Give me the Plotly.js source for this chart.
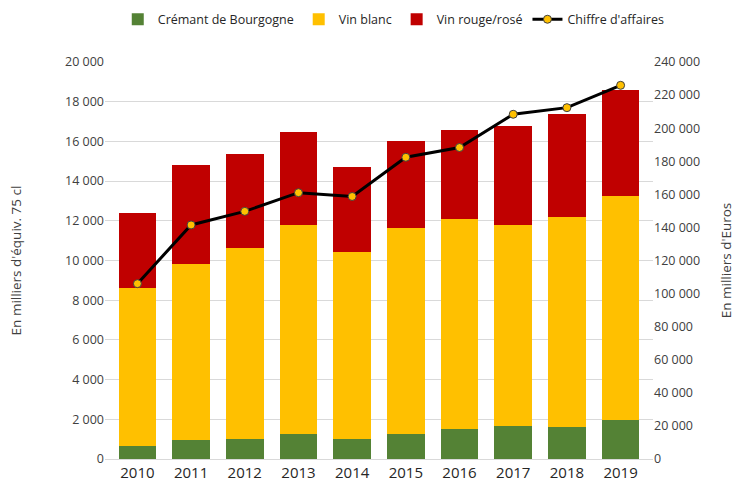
<!DOCTYPE html>
<html>
<head>
<meta charset="utf-8">
<script src="https://cdn.plot.ly/plotly-3.0.1.min.js"></script>
<style>html,body{margin:0;padding:0;background:#fff;}#chart{width:736px;height:491px;}</style>
</head>
<body>
<div id="chart"></div>
<script>
const years = ['2010','2011','2012','2013','2014','2015','2016','2017','2018','2019'];
const cremant = [650, 980, 1030, 1280, 1030, 1280, 1520, 1680, 1620, 1970];
const vinBlanc = [7990, 8850, 9625, 10520, 9390, 10370, 10565, 10120, 10580, 11255];
const vinRouge = [3750, 4960, 4695, 4655, 4290, 4350, 4470, 4960, 5165, 5385];
const chiffreAffaires = [106000, 141500, 149700, 161000, 158700, 182400, 188300, 208400, 212400, 225900];

const fontFam = '"Open Sans", "Noto Sans", sans-serif';

const traces = [
  {type:'bar', name:'Crémant de Bourgogne', x:years, y:cremant, marker:{color:'#548235'}},
  {type:'bar', name:'Vin blanc', x:years, y:vinBlanc, marker:{color:'#FFC000'}},
  {type:'bar', name:'Vin rouge/rosé', x:years, y:vinRouge, marker:{color:'#C00000'}},
  {type:'scatter', mode:'lines+markers', name:"Chiffre d'affaires", x:years, y:chiffreAffaires, yaxis:'y2',
   line:{color:'#000000', width:3}, marker:{color:'#FFC000', size:8, line:{color:'#404040', width:1}}}
];

const layout = {
  width:736, height:491,
  margin:{l:105, r:83, t:62, b:32, autoexpand:false},
  paper_bgcolor:'#ffffff', plot_bgcolor:'#ffffff',
  barmode:'stack', bargap:0.3,
  separators:', ',
  font:{family:fontFam, color:'#404040', size:12},
  showlegend:true,
  legend:{orientation:'h', xref:'container', x:0.535, xanchor:'center', yref:'container', y:0.96, yanchor:'middle',
          traceorder:'normal', font:{size:12.5, color:'#262626'}, itemwidth:30, tracegroupgap:0,
          entrywidthmode:'pixels'},
  xaxis:{type:'category', tickfont:{size:15, color:'#262626'}, showgrid:false, zeroline:false,
         showline:true, linecolor:'#d9d9d9', ticks:''},
  yaxis:{range:[0,20000], dtick:2000, tickformat:',d', showgrid:true, gridcolor:'#d9d9d9',
         zeroline:false, tickfont:{size:12.5, color:'#404040'}, ticks:'', ticklen:0,
         title:{text:"En milliers d'équiv. 75 cl", font:{size:13.5, color:'#404040'}, standoff:40}},
  yaxis2:{range:[0,240000], dtick:20000, tickformat:',d', overlaying:'y', side:'right', showgrid:false,
          zeroline:false, tickfont:{size:12.5, color:'#404040'}, ticks:'',
          title:{text:"En milliers d'Euros", font:{size:13.5, color:'#404040'}, standoff:22}}
};

Plotly.newPlot('chart', traces, layout, {displayModeBar:false, staticPlot:true});
</script>
</body>
</html>
